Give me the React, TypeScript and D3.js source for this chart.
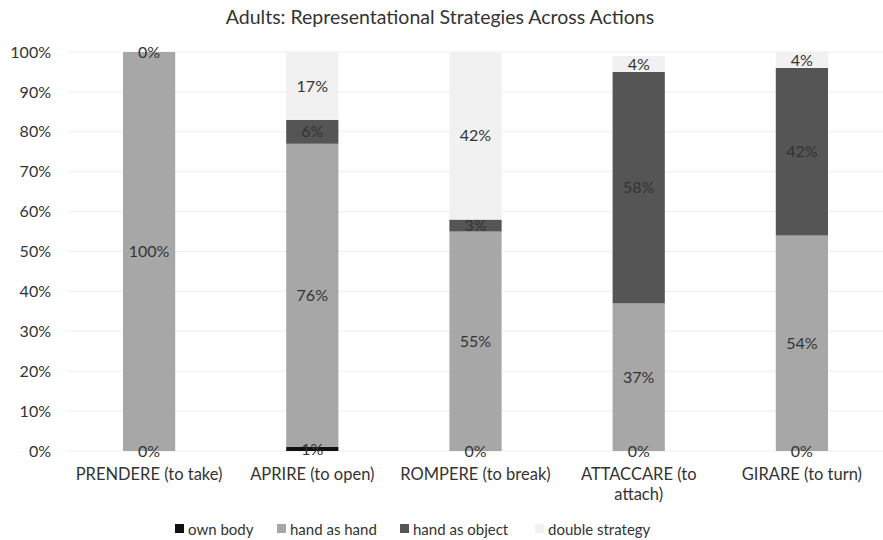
import React from "react";
import * as d3 from "d3";

const categories = [
  ["PRENDERE (to take)"],
  ["APRIRE (to open)"],
  ["ROMPERE (to break)"],
  ["ATTACCARE (to", "attach)"],
  ["GIRARE (to turn)"],
];
const seriesNames = ["own body", "hand as hand", "hand as object", "double strategy"];
const ownBody = [0, 1, 0, 0, 0];
const handAsHand = [100, 76, 55, 37, 54];
const handAsObject = [0, 6, 3, 58, 42];
const doubleStrategy = [0, 17, 42, 4, 4];
const seriesColors = ["#111111", "#a7a7a7", "#555555", "#f1f1f1"];
const yTicks = [0, 10, 20, 30, 40, 50, 60, 70, 80, 90, 100];

const W = 883;
const H = 540;
const FONT = "Lato, 'Open Sans', sans-serif";

export default function App() {
  const x = d3
    .scaleBand<number>()
    .domain(d3.range(categories.length))
    .range([67.5, 883.5])
    .paddingInner(0.68)
    .paddingOuter(0.34);
  const y = d3.scaleLinear().domain([0, 100]).range([451, 52]);

  const values = [ownBody, handAsHand, handAsObject, doubleStrategy];
  const table = categories.map((_, i) => {
    const row: Record<string, number> = {};
    seriesNames.forEach((s, k) => (row[s] = values[k][i]));
    return row;
  });
  const stacked = d3.stack<Record<string, number>>().keys(seriesNames)(table);

  // one label per position: coincident zero-height segments share a label
  const labels: { key: string; cx: number; cy: number; text: string }[] = [];
  const seen = new Set<string>();
  stacked.forEach((layer) =>
    layer.forEach((d, i) => {
      const cx = (x(i) as number) + x.bandwidth() / 2;
      const cy = y((d[0] + d[1]) / 2);
      const text = `${d[1] - d[0]}%`;
      const id = `${i}-${Math.round(cy)}-${text}`;
      if (seen.has(id)) return;
      seen.add(id);
      labels.push({ key: layer.key + i, cx, cy, text });
    })
  );

  const legendX = [175, 277, 400, 535];

  return (
    <svg
      width={W}
      height={H}
      style={{ position: "absolute", left: 0, top: 0, background: "#fff" }}
      fontFamily={FONT}
    >
      <text x={440} y={24} textAnchor="middle" fontSize={19.5} fill="#333">
        Adults: Representational Strategies Across Actions
      </text>

      {yTicks.map((t) => (
        <g key={t}>
          <line x1={67} x2={883} y1={y(t)} y2={y(t)} stroke="#eeeeee" strokeWidth={1} />
          <text x={51} y={y(t)} dy="0.35em" textAnchor="end" fontSize={16} fill="#333">
            {t}%
          </text>
        </g>
      ))}

      {stacked.map((layer, k) => (
        <g key={layer.key}>
          {layer.map((d, i) => (
            <rect
              key={i}
              x={x(i)}
              width={x.bandwidth()}
              y={y(d[1])}
              height={Math.max(0, y(d[0]) - y(d[1]))}
              fill={seriesColors[k]}
            />
          ))}
        </g>
      ))}

      {labels.map((l) => (
        <text
          key={l.key}
          x={l.cx}
          y={l.cy}
          dy="0.35em"
          textAnchor="middle"
          fontSize={16}
          fill="#333"
        >
          {l.text}
        </text>
      ))}

      {categories.map((lines, i) => (
        <text
          key={i}
          x={(x(i) as number) + x.bandwidth() / 2}
          y={480}
          textAnchor="middle"
          fontSize={16.5}
          fill="#333"
        >
          {lines.map((l, j) => (
            <tspan key={j} x={(x(i) as number) + x.bandwidth() / 2} dy={j === 0 ? 0 : 20}>
              {l}
            </tspan>
          ))}
        </text>
      ))}

      {seriesNames.map((s, k) => (
        <g key={s} transform={`translate(${legendX[k]},530)`}>
          <rect x={0} y={-6} width={9} height={9} fill={seriesColors[k]} />
          <text x={13} y={0} dy="0.35em" fontSize={15} fill="#333">
            {s}
          </text>
        </g>
      ))}
    </svg>
  );
}
